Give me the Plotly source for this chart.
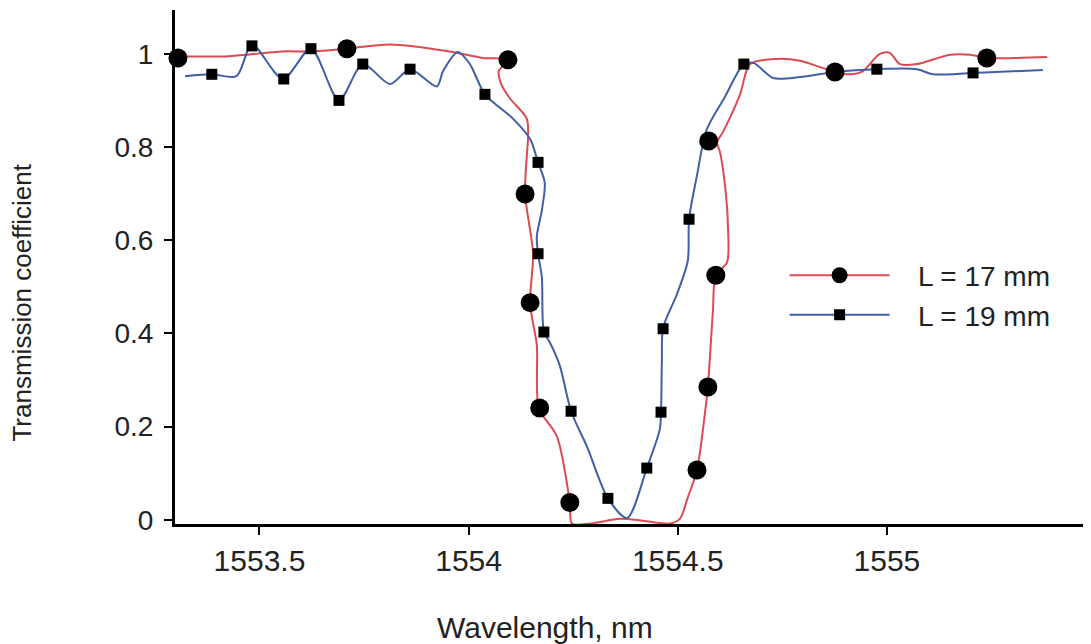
import plotly.graph_objects as go

# ---- data ----
# L = 17 mm : continuous curve
red_curve_x = [1553.298, 1553.429, 1553.554, 1553.621, 1553.709, 1553.812, 1553.955, 1554.034,
               1554.094, 1554.072, 1554.078, 1554.099, 1554.139, 1554.142, 1554.139, 1554.135,
               1554.154, 1554.147, 1554.163, 1554.168, 1554.211, 1554.242, 1554.247, 1554.290,
               1554.362, 1554.417, 1554.481, 1554.505, 1554.524, 1554.546, 1554.565, 1554.572,
               1554.584, 1554.591, 1554.618, 1554.620, 1554.613, 1554.601, 1554.594, 1554.608,
               1554.649, 1554.673, 1554.737, 1554.792, 1554.876, 1554.912, 1554.943, 1554.983,
               1555.007, 1555.031, 1555.072, 1555.151, 1555.199, 1555.242, 1555.383]
red_curve_y = [0.995, 0.995, 1.005, 1.005, 1.011, 1.020, 1.005, 0.991,
               0.987, 0.963, 0.935, 0.904, 0.861, 0.820, 0.780, 0.699,
               0.571, 0.464, 0.375, 0.240, 0.179, 0.037, -0.008, -0.008,
               0.002, -0.002, -0.008, 0.002, 0.048, 0.107, 0.229, 0.285,
               0.447, 0.525, 0.553, 0.630, 0.717, 0.789, 0.810, 0.832,
               0.913, 0.978, 0.989, 0.985, 0.961, 0.956, 0.963, 1.000,
               1.002, 0.978, 0.978, 0.998, 0.998, 0.991, 0.993]
# L = 17 mm : marked points
red_mark_x = [1553.305, 1553.709, 1554.094, 1554.135, 1554.147, 1554.170, 1554.242,
              1554.546, 1554.572, 1554.591, 1554.574, 1554.876, 1555.239]
red_mark_y = [0.991, 1.011, 0.987, 0.699, 0.466, 0.240, 0.037,
              0.107, 0.285, 0.525, 0.813, 0.961, 0.991]

# L = 19 mm : continuous curve
blue_curve_x = [1553.322, 1553.386, 1553.445, 1553.482, 1553.556, 1553.623, 1553.690, 1553.747,
                1553.812, 1553.860, 1553.924, 1553.939, 1553.974, 1554.003, 1554.039, 1554.106,
                1554.147, 1554.166, 1554.182, 1554.175, 1554.163, 1554.166, 1554.175, 1554.180,
                1554.194, 1554.218, 1554.245, 1554.283, 1554.333, 1554.379, 1554.426, 1554.457,
                1554.460, 1554.462, 1554.465, 1554.498, 1554.524, 1554.527, 1554.546, 1554.569,
                1554.613, 1554.658, 1554.682, 1554.728, 1554.792, 1554.876, 1554.976, 1555.072,
                1555.110, 1555.206, 1555.373]
blue_curve_y = [0.952, 0.956, 0.952, 1.020, 0.946, 1.011, 0.900, 0.978,
                0.935, 0.967, 0.930, 0.963, 1.004, 0.978, 0.913, 0.861,
                0.817, 0.767, 0.723, 0.664, 0.608, 0.571, 0.521, 0.403,
                0.381, 0.331, 0.233, 0.157, 0.046, 0.004, 0.111, 0.194,
                0.231, 0.338, 0.412, 0.484, 0.556, 0.645, 0.739, 0.837,
                0.908, 0.978, 0.980, 0.948, 0.950, 0.961, 0.967, 0.967,
                0.956, 0.959, 0.965]
# L = 19 mm : marked points
blue_mark_x = [1553.386, 1553.482, 1553.558, 1553.623, 1553.690, 1553.747, 1553.860, 1554.039,
               1554.166, 1554.166, 1554.180, 1554.245, 1554.333, 1554.426, 1554.460, 1554.465,
               1554.527, 1554.658, 1554.976, 1555.206]
blue_mark_y = [0.956, 1.017, 0.946, 1.011, 0.900, 0.978, 0.967, 0.913,
               0.767, 0.571, 0.403, 0.233, 0.046, 0.111, 0.231, 0.410,
               0.645, 0.978, 0.967, 0.959]

series_names = ["L = 17 mm", "L = 19 mm"]
x_tick_vals = [1553.5, 1554, 1554.5, 1555]
x_tick_text = ["1553.5", "1554", "1554.5", "1555"]
y_tick_vals = [0, 0.2, 0.4, 0.6, 0.8, 1]
y_tick_text = ["0", "0.2", "0.4", "0.6", "0.8", "1"]

RED = "#dc4a52"
BLUE = "#3f5fa6"
FONT = "Liberation Sans, Arial, Helvetica, sans-serif"
GAP = "\u00a0\u00a0\u00a0"

fig = go.Figure()
fig.add_trace(go.Scatter(x=red_curve_x, y=red_curve_y, mode="lines",
                         line=dict(color=RED, width=2, shape="spline", smoothing=0.8),
                         showlegend=False, hoverinfo="skip"))
fig.add_trace(go.Scatter(x=blue_curve_x, y=blue_curve_y, mode="lines",
                         line=dict(color=BLUE, width=2, shape="spline", smoothing=0.8),
                         showlegend=False, hoverinfo="skip"))
fig.add_trace(go.Scatter(x=red_mark_x, y=red_mark_y, mode="markers",
                         marker=dict(symbol="circle", size=19, color="black"),
                         showlegend=False, cliponaxis=False))
fig.add_trace(go.Scatter(x=blue_mark_x, y=blue_mark_y, mode="markers",
                         marker=dict(symbol="square", size=11, color="black"),
                         showlegend=False, cliponaxis=False))
# legend entries
fig.add_trace(go.Scatter(x=[None], y=[None], mode="lines+markers", name=GAP + series_names[0],
                         line=dict(color=RED, width=2),
                         marker=dict(symbol="circle", size=19, color="black")))
fig.add_trace(go.Scatter(x=[None], y=[None], mode="lines+markers", name=GAP + series_names[1],
                         line=dict(color=BLUE, width=2),
                         marker=dict(symbol="square", size=11, color="black")))

# the page body adds an 8 px offset, so the figure is 8 px smaller than the window
fig.update_layout(
    width=1083, height=636,
    margin=dict(l=167, r=0, t=2, b=120),
    paper_bgcolor="white", plot_bgcolor="white",
    font=dict(family=FONT, color="#222222", size=28),
    legend=dict(x=0.6655, y=0.532, xanchor="left", yanchor="top",
                bgcolor="rgba(0,0,0,0)", font=dict(size=28, color="#222222"),
                itemwidth=100, tracegroupgap=0),
    annotations=[
        dict(text="Wavelength, nm", xref="paper", yref="paper", x=(545 - 175) / 916, y=0,
             xanchor="center", yanchor="middle", yshift=-103, showarrow=False,
             font=dict(size=30, family=FONT, color="#222222")),
        dict(text="Transmission coefficient", xref="paper", yref="paper", x=0, y=(516 - 298) / 506,
             xanchor="center", yanchor="middle", xshift=-153, textangle=-90, showarrow=False,
             font=dict(size=26, family=FONT, color="#222222")),
    ],
)
fig.update_xaxes(range=[1553.298, 1555.488], showgrid=False, zeroline=False,
                 showline=True, linecolor="black", linewidth=3,
                 ticks="outside", ticklen=8, tickwidth=2, tickcolor="black",
                 tickvals=x_tick_vals, ticktext=x_tick_text,
                 tickfont=dict(size=30, family=FONT, color="#222222"))
fig.update_yaxes(range=[-0.009, 1.094], showgrid=False, zeroline=False,
                 showline=True, linecolor="black", linewidth=3,
                 ticks="outside", ticklen=8, tickwidth=2, tickcolor="black",
                 ticklabelstandoff=5,
                 tickvals=y_tick_vals, ticktext=y_tick_text,
                 tickfont=dict(size=28, family=FONT, color="#222222"))

fig.write_html("out.html")
